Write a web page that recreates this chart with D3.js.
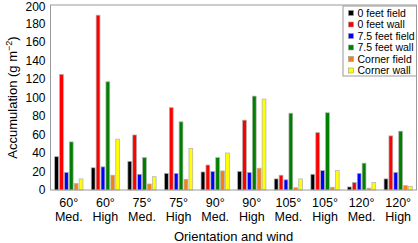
<!DOCTYPE html>
<html><head><meta charset="utf-8">
<script src="https://cdn.jsdelivr.net/npm/d3@7"></script>
<style>body{margin:0;background:#fff;}svg{display:block;}</style>
</head><body><svg id="c" width="418" height="243" font-family="Liberation Sans, Arial, sans-serif"></svg>
<script>
const groupsTop = ["60°","60°","75°","75°","90°","90°","105°","105°","120°","120°"];
const groupsBottom = ["Med.","High","Med.","High","Med.","High","Med.","High","Med.","High"];
const seriesNames = ["0 feet field","0 feet wall","7.5 feet field","7.5 feet wall","Corner field","Corner wall"];
const seriesColors = ["#000000","#ff0000","#0000ff","#008000","#f57f17","#ffff00"];
const feet0Field  = [36, 24, 31, 18, 19.5, 20, 12, 17, 3.3, 12];
const feet0Wall   = [125, 189, 59.5, 89, 27, 75.5, 16, 62, 8, 58.5];
const feet75Field = [19, 25, 17, 18, 20, 19, 11, 21, 18, 19];
const feet75Wall  = [52, 117, 35, 73.7, 35, 101.5, 83, 83.5, 29, 63.6];
const cornerField = [7, 16, 6.5, 11.6, 20.6, 23.5, 2.5, 3, 2, 4.7];
const cornerWall  = [12, 55, 14.4, 45, 40, 98.3, 12, 21, 8, 4];
const yTicks = [0,20,40,60,80,100,120,140,160,180,200];
const series = [feet0Field, feet0Wall, feet75Field, feet75Wall, cornerField, cornerWall];

const FF = "Liberation Sans, Arial, sans-serif";
const svg = d3.select("#c");
const L = 50.5, R = 416.5, T = 5, B = 190;
const idx = d3.range(groupsTop.length);
const x0 = d3.scaleBand().domain(idx).range([L, R]);
const x1 = d3.scaleBand().domain(d3.range(6)).range([0, x0.bandwidth()]).paddingInner(0.224).paddingOuter(0.85);
const y = d3.scaleLinear().domain([0, 200]).range([B, T]);

// bars
const g = svg.append("g");
idx.forEach(i => {
  series.forEach((s, k) => {
    g.append("rect")
      .attr("x", x0(i) + x1(k))
      .attr("y", y(s[i]))
      .attr("width", x1.bandwidth())
      .attr("height", y(0) - y(s[i]))
      .attr("fill", seriesColors[k])
      .attr("stroke", "#b0b0b0")
      .attr("stroke-width", 0.7);
  });
});

// frame
svg.append("rect").attr("x", L).attr("y", T).attr("width", R - L).attr("height", B - T)
  .attr("fill", "none").attr("stroke", "#9a9a9a").attr("stroke-width", 1);

// y axis
const yAxis = d3.axisLeft(y).tickValues(yTicks).tickSize(0).tickPadding(5);
const ya = svg.append("g").attr("transform", `translate(${L},0)`).call(yAxis);
ya.attr("font-family", FF);
ya.select(".domain").remove();
ya.selectAll("text").attr("font-size", 12).attr("fill", "#000").attr("font-family", FF);
ya.selectAll(".tick").filter(d => d === 200).select("text").attr("dy", "0.38em").attr("y", 1);

// x labels
const xa = svg.append("g");
idx.forEach(i => {
  const cx = x0(i) + x0.bandwidth() / 2;
  xa.append("text").attr("x", cx).attr("y", 207).attr("text-anchor", "middle").attr("font-size", 12.5).text(groupsTop[i]);
  xa.append("text").attr("x", cx).attr("y", 220.5).attr("text-anchor", "middle").attr("font-size", 12.5).text(groupsBottom[i]);
});

svg.append("text").attr("x", (L + R) / 2).attr("y", 241).attr("text-anchor", "middle")
  .attr("font-size", 13).text("Orientation and wind");

const yl = svg.append("text").attr("transform", `translate(17,${(T + B) / 2}) rotate(-90)`)
  .attr("text-anchor", "middle").attr("font-size", 13);
yl.append("tspan").text("Accumulation (g m");
yl.append("tspan").attr("font-size", 9).attr("dy", -5).text("−2");
yl.append("tspan").attr("dy", 5).text(")");

// legend
const lg = svg.append("g");
lg.append("rect").attr("x", 343).attr("y", 6).attr("width", 73.5).attr("height", 70)
  .attr("fill", "#fff").attr("stroke", "#9a9a9a").attr("stroke-width", 1);
seriesNames.forEach((n, k) => {
  const yy = 13 + k * 11.5;
  lg.append("rect").attr("x", 348.5).attr("y", yy - 2.5).attr("width", 5).attr("height", 5)
    .attr("fill", seriesColors[k]).attr("stroke", "#999").attr("stroke-width", 0.6);
  lg.append("text").attr("x", 357.5).attr("y", yy + 3.8).attr("font-size", 10.5).text(n);
});
</script></body></html>
